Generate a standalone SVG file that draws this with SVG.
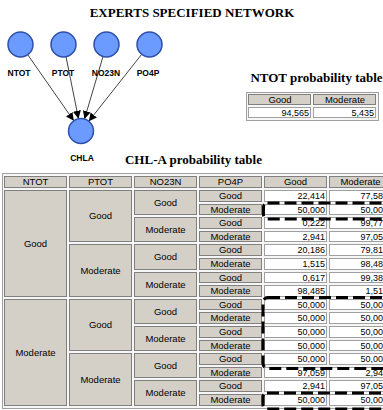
<svg xmlns="http://www.w3.org/2000/svg" width="383" height="410" viewBox="0 0 383 410">
  <style>
    .title { font-family: "Liberation Serif", "Times New Roman", serif; font-weight: bold; font-size: 13px; text-anchor: middle; fill: #000; }
    .node circle { fill: #6b9bff; stroke: #2f4fa8; stroke-width: 1.5; }
    .node text { font-family: "Liberation Sans", Arial, sans-serif; font-weight: bold; font-size: 8.5px; text-anchor: middle; fill: #000; }
    .edge { stroke: #444; stroke-width: 1; fill: none; marker-end: url(#arrow); }
    .frame { fill: #f6f6f6; stroke: #a0a0a0; stroke-width: 1; }
    .th { fill: #d4d0c8; stroke: #808080; stroke-width: 1; }
    .td { fill: #fff; stroke: #a0a0a0; stroke-width: 1; }
    .lbl { font-family: "Liberation Sans", Arial, sans-serif; font-size: 9.5px; text-anchor: middle; fill: #000; }
    .num { font-family: "Liberation Sans", Arial, sans-serif; font-size: 9px; text-anchor: end; fill: #000; }
    .sel { fill: none; stroke: #000; stroke-width: 3; stroke-dasharray: 12 5; }
  </style>
  <defs>
    <marker id="arrow" viewBox="0 0 10 10" refX="10" refY="5" markerWidth="8" markerHeight="8" markerUnits="userSpaceOnUse" orient="auto">
      <path d="M0,0 L10,5 L0,10 z" fill="#000"/>
    </marker>
  </defs>

  <rect width="383" height="410" fill="#fff"/>

  <text class="title" x="192" y="17">EXPERTS SPECIFIED NETWORK</text>

  <!-- connectors -->
  <g id="edges">
    <line class="edge" x1="27.7" y1="54.7" x2="73.8" y2="120.8"/>
    <line class="edge" x1="66" y1="56.7" x2="78.5" y2="118.7"/>
    <line class="edge" x1="103" y1="56.5" x2="84.5" y2="119"/>
    <line class="edge" x1="141.7" y1="54.3" x2="88.8" y2="121.2"/>
  </g>

  <!-- nodes -->
  <g id="NTOT" class="node"><circle cx="20.5" cy="44.5" r="12.5"/><text x="19" y="76">NTOT</text></g>
  <g id="PTOT" class="node"><circle cx="63.5" cy="44.5" r="12.5"/><text x="63" y="76">PTOT</text></g>
  <g id="NO23N" class="node"><circle cx="106.5" cy="44.5" r="12.5"/><text x="106" y="76">NO23N</text></g>
  <g id="PO4P" class="node"><circle cx="149.5" cy="44.5" r="12.5"/><text x="148" y="76">PO4P</text></g>
  <g id="CHLA" class="node"><circle cx="81" cy="131" r="12.5"/><text x="82" y="161">CHLA</text></g>

  <!-- NTOT probability table -->
  <g id="ntot-table">
    <text class="title" x="316.5" y="82">NTOT probability table</text>
    <rect class="frame" x="246.5" y="92.5" width="132" height="28"/>
    <rect class="th" x="248.5" y="94.5" width="62" height="10"/>
    <rect class="th" x="313.5" y="94.5" width="62" height="10"/>
    <rect class="td" x="248.5" y="107.5" width="62" height="10"/>
    <rect class="td" x="313.5" y="107.5" width="62" height="10"/>
    <text class="lbl" x="280" y="103">Good</text>
    <text class="lbl" x="345" y="103">Moderate</text>
    <text class="num" x="309" y="116">94,565</text>
    <text class="num" x="374" y="116">5,435</text>
  </g>

  <!-- CHL-A probability table -->
  <g id="chla-table">
    <text class="title" x="193.5" y="164">CHL-A probability table</text>
    <rect class="frame" x="2.5" y="173.5" width="400" height="235"/>

    <!-- header row -->
    <rect class="th" x="4.5" y="176.5" width="62" height="11"/>
    <rect class="th" x="69.5" y="176.5" width="62" height="11"/>
    <rect class="th" x="134.5" y="176.5" width="62" height="11"/>
    <rect class="th" x="199.5" y="176.5" width="62" height="11"/>
    <rect class="th" x="264.5" y="176.5" width="62" height="11"/>
    <rect class="th" x="329.5" y="176.5" width="62" height="11"/>
    <text class="lbl" x="35.5" y="185.3">NTOT</text>
    <text class="lbl" x="100.5" y="185.3">PTOT</text>
    <text class="lbl" x="165.5" y="185.3">NO23N</text>
    <text class="lbl" x="230.5" y="185.3">PO4P</text>
    <text class="lbl" x="295.5" y="185.3">Good</text>
    <text class="lbl" x="360.5" y="185.3">Moderate</text>

    <!-- NTOT column -->
    <rect class="th" x="4.5" y="190.5" width="62" height="106"/>
    <rect class="th" x="4.5" y="299.5" width="62" height="106"/>
    <text class="lbl" x="35.5" y="246.8">Good</text>
    <text class="lbl" x="35.5" y="355.8">Moderate</text>

    <!-- PTOT column -->
    <rect class="th" x="69.5" y="190.5" width="62" height="51"/>
    <rect class="th" x="69.5" y="244.5" width="62" height="52"/>
    <rect class="th" x="69.5" y="299.5" width="62" height="51"/>
    <rect class="th" x="69.5" y="353.5" width="62" height="52"/>
    <text class="lbl" x="100.5" y="219.3">Good</text>
    <text class="lbl" x="100.5" y="273.8">Moderate</text>
    <text class="lbl" x="100.5" y="328.3">Good</text>
    <text class="lbl" x="100.5" y="382.8">Moderate</text>

    <!-- NO23N column -->
    <rect class="th" x="134.5" y="190.5" width="62" height="24"/>
    <rect class="th" x="134.5" y="217.5" width="62" height="24"/>
    <rect class="th" x="134.5" y="244.5" width="62" height="25"/>
    <rect class="th" x="134.5" y="272.5" width="62" height="24"/>
    <rect class="th" x="134.5" y="299.5" width="62" height="24"/>
    <rect class="th" x="134.5" y="326.5" width="62" height="24"/>
    <rect class="th" x="134.5" y="353.5" width="62" height="24"/>
    <rect class="th" x="134.5" y="380.5" width="62" height="25"/>
    <text class="lbl" x="165.5" y="205.8">Good</text>
    <text class="lbl" x="165.5" y="232.8">Moderate</text>
    <text class="lbl" x="165.5" y="260.3">Good</text>
    <text class="lbl" x="165.5" y="287.8">Moderate</text>
    <text class="lbl" x="165.5" y="314.8">Good</text>
    <text class="lbl" x="165.5" y="341.8">Moderate</text>
    <text class="lbl" x="165.5" y="368.8">Good</text>
    <text class="lbl" x="165.5" y="396.3">Moderate</text>

    <!-- PO4P column -->
    <rect class="th" x="199.5" y="190.5" width="62" height="11"/>
    <rect class="th" x="199.5" y="204.5" width="62" height="10"/>
    <rect class="th" x="199.5" y="217.5" width="62" height="11"/>
    <rect class="th" x="199.5" y="231.5" width="62" height="10"/>
    <rect class="th" x="199.5" y="244.5" width="62" height="11"/>
    <rect class="th" x="199.5" y="258.5" width="62" height="11"/>
    <rect class="th" x="199.5" y="272.5" width="62" height="10"/>
    <rect class="th" x="199.5" y="285.5" width="62" height="11"/>
    <rect class="th" x="199.5" y="299.5" width="62" height="10"/>
    <rect class="th" x="199.5" y="312.5" width="62" height="11"/>
    <rect class="th" x="199.5" y="326.5" width="62" height="11"/>
    <rect class="th" x="199.5" y="340.5" width="62" height="10"/>
    <rect class="th" x="199.5" y="353.5" width="62" height="11"/>
    <rect class="th" x="199.5" y="367.5" width="62" height="10"/>
    <rect class="th" x="199.5" y="380.5" width="62" height="11"/>
    <rect class="th" x="199.5" y="394.5" width="62" height="11"/>
    <text class="lbl" x="230.5" y="199.3">Good</text>
    <text class="lbl" x="230.5" y="212.8">Moderate</text>
    <text class="lbl" x="230.5" y="226.3">Good</text>
    <text class="lbl" x="230.5" y="239.8">Moderate</text>
    <text class="lbl" x="230.5" y="253.3">Good</text>
    <text class="lbl" x="230.5" y="267.3">Moderate</text>
    <text class="lbl" x="230.5" y="280.8">Good</text>
    <text class="lbl" x="230.5" y="294.3">Moderate</text>
    <text class="lbl" x="230.5" y="307.8">Good</text>
    <text class="lbl" x="230.5" y="321.3">Moderate</text>
    <text class="lbl" x="230.5" y="335.3">Good</text>
    <text class="lbl" x="230.5" y="348.8">Moderate</text>
    <text class="lbl" x="230.5" y="362.3">Good</text>
    <text class="lbl" x="230.5" y="375.8">Moderate</text>
    <text class="lbl" x="230.5" y="389.3">Good</text>
    <text class="lbl" x="230.5" y="403.3">Moderate</text>

    <!-- probability cells: Good column -->
    <rect class="td" x="264.5" y="190.5" width="62" height="11"/>
    <rect class="td" x="264.5" y="204.5" width="62" height="10"/>
    <rect class="td" x="264.5" y="217.5" width="62" height="11"/>
    <rect class="td" x="264.5" y="231.5" width="62" height="10"/>
    <rect class="td" x="264.5" y="244.5" width="62" height="11"/>
    <rect class="td" x="264.5" y="258.5" width="62" height="11"/>
    <rect class="td" x="264.5" y="272.5" width="62" height="10"/>
    <rect class="td" x="264.5" y="285.5" width="62" height="11"/>
    <rect class="td" x="264.5" y="299.5" width="62" height="10"/>
    <rect class="td" x="264.5" y="312.5" width="62" height="11"/>
    <rect class="td" x="264.5" y="326.5" width="62" height="11"/>
    <rect class="td" x="264.5" y="340.5" width="62" height="10"/>
    <rect class="td" x="264.5" y="353.5" width="62" height="11"/>
    <rect class="td" x="264.5" y="367.5" width="62" height="10"/>
    <rect class="td" x="264.5" y="380.5" width="62" height="11"/>
    <rect class="td" x="264.5" y="394.5" width="62" height="11"/>
    <!-- probability cells: Moderate column -->
    <rect class="td" x="329.5" y="190.5" width="62" height="11"/>
    <rect class="td" x="329.5" y="204.5" width="62" height="10"/>
    <rect class="td" x="329.5" y="217.5" width="62" height="11"/>
    <rect class="td" x="329.5" y="231.5" width="62" height="10"/>
    <rect class="td" x="329.5" y="244.5" width="62" height="11"/>
    <rect class="td" x="329.5" y="258.5" width="62" height="11"/>
    <rect class="td" x="329.5" y="272.5" width="62" height="10"/>
    <rect class="td" x="329.5" y="285.5" width="62" height="11"/>
    <rect class="td" x="329.5" y="299.5" width="62" height="10"/>
    <rect class="td" x="329.5" y="312.5" width="62" height="11"/>
    <rect class="td" x="329.5" y="326.5" width="62" height="11"/>
    <rect class="td" x="329.5" y="340.5" width="62" height="10"/>
    <rect class="td" x="329.5" y="353.5" width="62" height="11"/>
    <rect class="td" x="329.5" y="367.5" width="62" height="10"/>
    <rect class="td" x="329.5" y="380.5" width="62" height="11"/>
    <rect class="td" x="329.5" y="394.5" width="62" height="11"/>

    <text class="num" x="325" y="199.3">22,414</text>
    <text class="num" x="325" y="212.8">50,000</text>
    <text class="num" x="325" y="226.3">0,222</text>
    <text class="num" x="325" y="239.8">2,941</text>
    <text class="num" x="325" y="253.3">20,186</text>
    <text class="num" x="325" y="267.3">1,515</text>
    <text class="num" x="325" y="280.8">0,617</text>
    <text class="num" x="325" y="294.3">98,485</text>
    <text class="num" x="325" y="307.8">50,000</text>
    <text class="num" x="325" y="321.3">50,000</text>
    <text class="num" x="325" y="335.3">50,000</text>
    <text class="num" x="325" y="348.8">50,000</text>
    <text class="num" x="325" y="362.3">50,000</text>
    <text class="num" x="325" y="375.8">97,059</text>
    <text class="num" x="325" y="389.3">2,941</text>
    <text class="num" x="325" y="403.3">50,000</text>

    <text class="num" x="383" y="199.3">77,58</text>
    <text class="num" x="383" y="212.8">50,00</text>
    <text class="num" x="383" y="226.3">99,77</text>
    <text class="num" x="383" y="239.8">97,05</text>
    <text class="num" x="383" y="253.3">79,81</text>
    <text class="num" x="383" y="267.3">98,48</text>
    <text class="num" x="383" y="280.8">99,38</text>
    <text class="num" x="383" y="294.3">1,51</text>
    <text class="num" x="383" y="307.8">50,00</text>
    <text class="num" x="383" y="321.3">50,00</text>
    <text class="num" x="383" y="335.3">50,00</text>
    <text class="num" x="383" y="348.8">50,00</text>
    <text class="num" x="383" y="362.3">50,00</text>
    <text class="num" x="383" y="375.8">2,94</text>
    <text class="num" x="383" y="389.3">97,05</text>
    <text class="num" x="383" y="403.3">50,00</text>
  </g>

  <!-- highlighted rows -->
  <g id="highlights">
    <rect class="sel" x="263.5" y="203" width="140" height="16" rx="4"/>
    <rect class="sel" x="263" y="297.5" width="140" height="71" rx="5"/>
    <rect class="sel" x="263" y="393" width="140" height="16" rx="4"/>
  </g>
</svg>
